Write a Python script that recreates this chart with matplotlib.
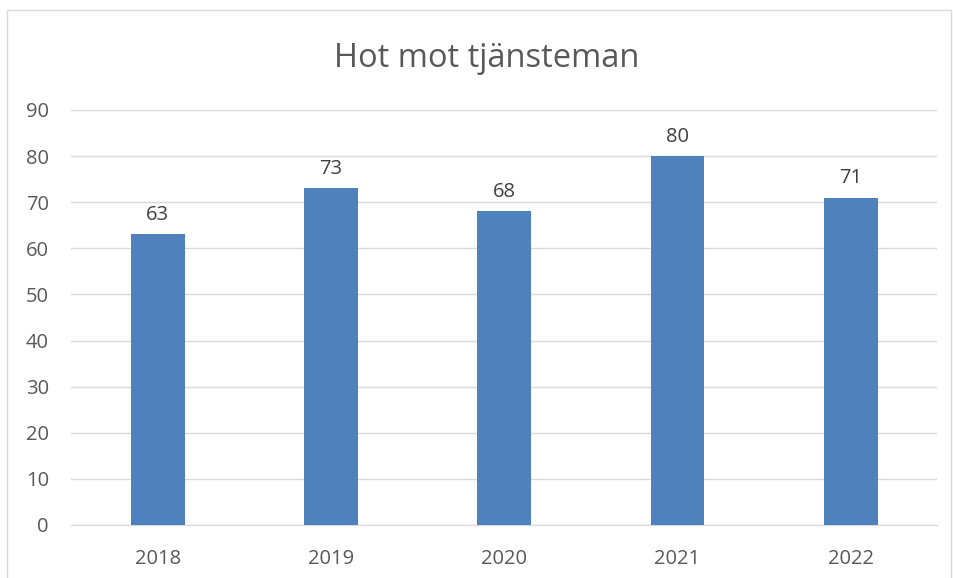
import matplotlib.pyplot as plt
from matplotlib.patches import Rectangle

years = ['2018', '2019', '2020', '2021', '2022']
counts = [63, 73, 68, 80, 71]
yticks = [0, 10, 20, 30, 40, 50, 60, 70, 80, 90]

plt.rcParams['font.family'] = ['Open Sans', 'DejaVu Sans']
text_color = '#595959'

fig = plt.figure(figsize=(9.54, 5.78), dpi=100)
ax = fig.add_axes([0.0745, 0.0917, 0.908, 0.718])

x = range(len(years))
bars = ax.bar(x, counts, width=0.31, color='#4f81bd', zorder=3)

for b, v in zip(bars, counts):
    ax.text(b.get_x() + b.get_width() / 2, v + 2.0, str(v),
            ha='center', va='bottom', fontsize=14.5, color='#404040')

ax.set_xlim(-0.5, len(years) - 0.5)
ax.set_ylim(0, 90)
ax.set_yticks(yticks)
ax.set_xticks(list(x))
ax.set_xticklabels(years)
ax.tick_params(axis='both', length=0, labelsize=14.5, colors=text_color)
ax.tick_params(axis='x', pad=17)
ax.tick_params(axis='y', pad=16)
ax.grid(axis='y', color='#d9d9d9', linewidth=1, zorder=0)
for side in ['top', 'right', 'left']:
    ax.spines[side].set_visible(False)
ax.spines['bottom'].set_color('#d9d9d9')

fig.suptitle('Hot mot tjänsteman', x=0.51, y=0.928, fontsize=23.5, color=text_color)

# chart border
fig.patches.append(Rectangle((0.007, -0.01), 0.99, 0.992, transform=fig.transFigure,
                             fill=False, edgecolor='#d9d9d9', linewidth=1))

fig.savefig('out.png', dpi=100)
